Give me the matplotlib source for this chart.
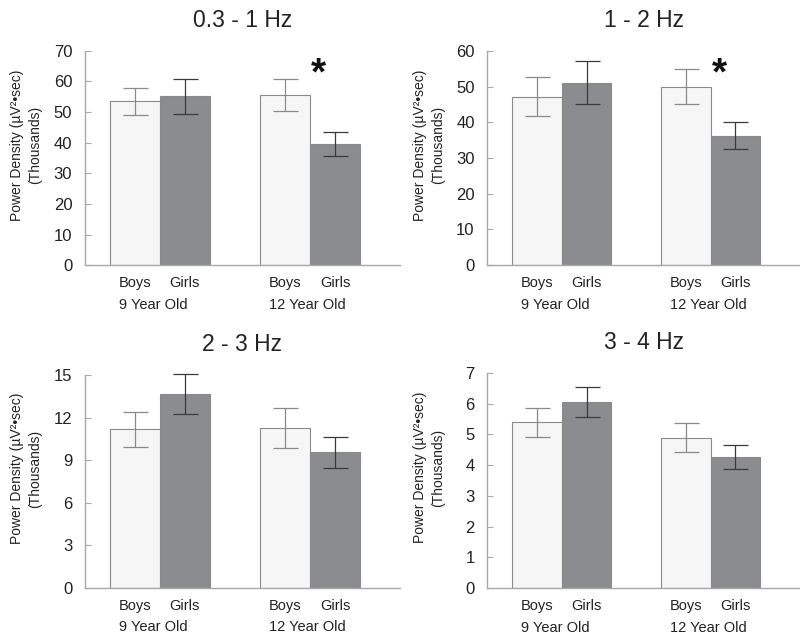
import matplotlib.pyplot as plt

plt.rcParams['font.family'] = ['Liberation Sans', 'DejaVu Sans']

titles = ['0.3 - 1 Hz', '1 - 2 Hz', '2 - 3 Hz', '3 - 4 Hz']
groups = ['9 Year Old', '12 Year Old']
sexes = ['Boys', 'Girls']

# means (thousands), order: boys 9, girls 9, boys 12, girls 12
means_03_1 = [53.6, 55.2, 55.6, 39.6]
sem_03_1 = [4.4, 5.7, 5.3, 3.9]
means_1_2 = [47.2, 51.1, 50.0, 36.2]
sem_1_2 = [5.4, 6.1, 5.0, 3.8]
means_2_3 = [11.17, 13.68, 11.24, 9.55]
sem_2_3 = [1.22, 1.42, 1.40, 1.08]
means_3_4 = [5.39, 6.06, 4.90, 4.27]
sem_3_4 = [0.46, 0.49, 0.47, 0.40]

ymax = [70, 60, 15, 7]
ystep = [10, 10, 3, 1]
signif = [True, True, False, False]

all_means = [means_03_1, means_1_2, means_2_3, means_3_4]
all_sem = [sem_03_1, sem_1_2, sem_2_3, sem_3_4]

xpos = [0, 1, 3, 4]
light = '#f6f6f6'
dark = '#8b8c90'
spine_col = '#a8a8a8'

fig = plt.figure(figsize=(8, 6.36), dpi=100)
boxes = [
    [0.106, 0.583, 0.394, 0.337],
    [0.609, 0.583, 0.391, 0.337],
    [0.106, 0.0755, 0.394, 0.335],
    [0.609, 0.0755, 0.391, 0.338],
]

for i in range(4):
    ax = fig.add_axes(boxes[i])
    m = all_means[i]
    e = all_sem[i]
    cols = [light, dark, light, dark]
    ax.bar(xpos, m, width=1.0, color=cols, edgecolor='#8a8a8a', linewidth=0.8, zorder=2)
    for j in range(4):
        ecol = '#8a8a8a' if j % 2 == 0 else '#3a3a3a'
        eb = ax.errorbar(xpos[j], m[j], yerr=e[j], fmt='none', ecolor=ecol,
                         elinewidth=0.9, capsize=9, capthick=0.9, zorder=3)
        for art in eb.lines[1] + eb.lines[2]:
            art.set_clip_on(False)

    ax.set_xlim(-1.0, 5.3)
    ax.set_ylim(0, ymax[i])
    ax.set_yticks(range(0, ymax[i] + 1, ystep[i]))
    ax.tick_params(axis='y', direction='in', length=4, width=0.8, color=spine_col,
                   labelsize=12, pad=9, labelcolor='#222222')
    ax.set_xticks([])
    for s in ['top', 'right']:
        ax.spines[s].set_visible(False)
    for s in ['left', 'bottom']:
        ax.spines[s].set_color(spine_col)
        ax.spines[s].set_linewidth(1.0)

    ax.set_title(titles[i], fontsize=16.5, pad=17, color='#222222')
    ax.set_ylabel('Power Density (µV²•sec)\n(Thousands)', fontsize=10,
                  color='#222222', linespacing=1.35)
    ax.yaxis.set_label_coords(-0.135, 0.56)

    for j in range(4):
        ax.text(xpos[j], -0.052, sexes[j % 2], transform=ax.get_xaxis_transform(),
                ha='center', va='top', fontsize=10.5, color='#222222')
    ax.text(0.37, -0.152, groups[0], transform=ax.get_xaxis_transform(),
            ha='center', va='top', fontsize=10.5, color='#222222')
    ax.text(3.45, -0.152, groups[1], transform=ax.get_xaxis_transform(),
            ha='center', va='top', fontsize=10.5, color='#222222')

    if signif[i]:
        ax.text(3.67, 0.89, '*', transform=ax.get_xaxis_transform(),
                ha='center', va='center', fontsize=28, fontweight='bold', color='#111111')

fig.savefig('out.png', dpi=100)
